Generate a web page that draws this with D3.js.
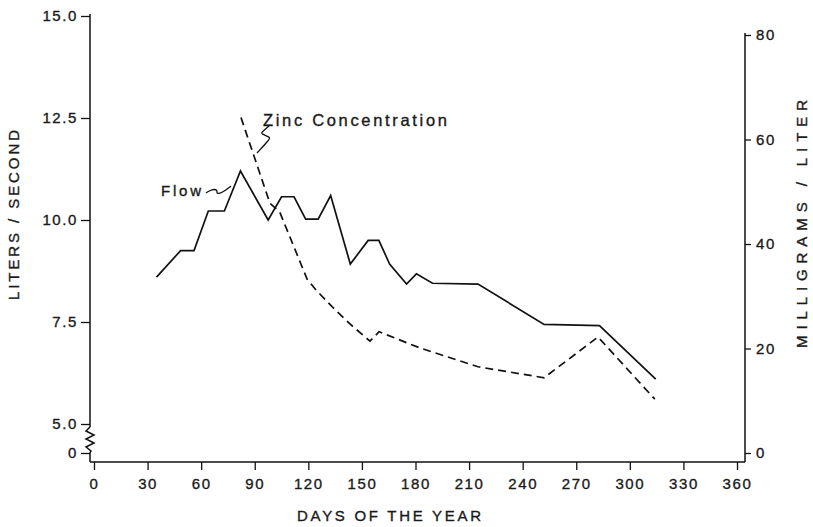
<!DOCTYPE html>
<html>
<head>
<meta charset="utf-8">
<script src="https://cdn.jsdelivr.net/npm/d3@7"></script>
<style>
  body { margin: 0; background: #fff; }
  svg text { font-family: "Liberation Sans", Arial, sans-serif; fill: #1a1a1a; stroke: #1a1a1a; stroke-width: 0.35px; }
</style>
</head>
<body>
<div id="chart"></div>
<script>
// flow, liters / second (left axis)
var flowDays = [35, 48.5, 56, 64, 73, 82, 97.5, 105, 112, 118.5, 125.5, 132.5, 143.5, 153.5, 159.5, 165.5, 175, 180.5, 189.5, 215, 252, 283, 314.5];
var flowValues = [8.6, 9.25, 9.25, 10.22, 10.22, 11.2, 10.0, 10.57, 10.57, 10.02, 10.02, 10.6, 8.92, 9.5, 9.5, 8.92, 8.43, 8.68, 8.45, 8.43, 7.44, 7.41, 6.1];

// zinc concentration, milligrams / liter (right axis)
var zincDays = [82.3, 98.5, 104, 119.3, 124.3, 133.3, 143.3, 154.5, 159.6, 182.5, 215, 252, 282.2, 314];
var zincValues = [64.2, 47.8, 46.1, 33.3, 31.2, 28.0, 24.7, 21.4, 23.2, 20.1, 16.5, 14.4, 22.2, 10.3];

var xTicks = [0, 30, 60, 90, 120, 150, 180, 210, 240, 270, 300, 330, 360];
var leftTicks = [0, 5, 7.5, 10, 12.5, 15];
var rightTicks = [0, 20, 40, 60, 80];

var width = 813,
    height = 527;

var svg = d3.select('#chart').append('svg')
  .attr('width', width)
  .attr('height', height);

var x = d3.scaleLinear().domain([0, 360]).range([94, 737]);
// broken axis: 0..5 squeezed below the break
var yLeft = d3.scaleLinear().domain([0, 5, 15]).range([453, 424, 16]);
var yRight = d3.scaleLinear().domain([0, 80]).range([453, 35]);

var axisY = 462, leftX = 90, rightX = 745;

// frame lines
var frame = svg.append('g').attr('stroke', '#111').attr('stroke-width', 1.5).attr('fill', 'none');
frame.append('line').attr('x1', leftX).attr('x2', rightX).attr('y1', axisY).attr('y2', axisY);
frame.append('line').attr('x1', rightX).attr('x2', rightX).attr('y1', yRight(80) - 2).attr('y2', axisY);
frame.append('line').attr('x1', leftX).attr('x2', leftX).attr('y1', yLeft(15) - 2).attr('y2', yLeft(5) + 3);
frame.append('path').attr('d', d3.line()([
  [leftX, yLeft(5) + 3], [leftX - 4, yLeft(5) + 7], [leftX + 4, yLeft(5) + 11], [leftX - 4, yLeft(5) + 15],
  [leftX + 4, yLeft(5) + 19], [leftX - 4, yLeft(5) + 23], [leftX + 1, yLeft(0) - 2], [leftX, yLeft(0)], [leftX, axisY]
]));

// axes
var fmtLeft = function(d) { return d === 0 ? '0' : d3.format('.1f')(d); };

var gx = svg.append('g').attr('transform', 'translate(0,' + axisY + ')')
  .call(d3.axisBottom(x).tickValues(xTicks).tickSize(8).tickPadding(8));
var gl = svg.append('g').attr('transform', 'translate(' + leftX + ',0)')
  .call(d3.axisLeft(yLeft).tickValues(leftTicks).tickFormat(fmtLeft).tickSize(9).tickPadding(3));
var gr = svg.append('g').attr('transform', 'translate(' + rightX + ',0)')
  .call(d3.axisRight(yRight).tickValues(rightTicks).tickSize(6).tickPadding(5));

[gx, gl, gr].forEach(function(g) {
  g.select('.domain').remove();
  g.selectAll('.tick line').attr('stroke', '#111').attr('stroke-width', 1.3);
  g.selectAll('.tick text').attr('font-size', 15).style('letter-spacing', '1.6px').attr('fill', '#1a1a1a');
});

// axis titles
svg.append('text').attr('transform', 'translate(19,215) rotate(-90)')
  .attr('text-anchor', 'middle').attr('font-size', 15)
  .attr('textLength', 170).attr('lengthAdjust', 'spacing').text('LITERS / SECOND');
svg.append('text').attr('transform', 'translate(807,224) rotate(-90)')
  .attr('text-anchor', 'middle').attr('font-size', 15)
  .attr('textLength', 248).attr('lengthAdjust', 'spacing').text('MILLIGRAMS / LITER');
svg.append('text').attr('x', 389).attr('y', 521)
  .attr('text-anchor', 'middle').attr('font-size', 15)
  .attr('textLength', 184).attr('lengthAdjust', 'spacing').text('DAYS OF THE YEAR');

// series
var flowLine = d3.line().x(function(d) { return x(d[0]); }).y(function(d) { return yLeft(d[1]); });
var zincLine = d3.line().x(function(d) { return x(d[0]); }).y(function(d) { return yRight(d[1]); });

svg.append('path').datum(d3.zip(flowDays, flowValues))
  .attr('d', flowLine).attr('fill', 'none').attr('stroke', '#111')
  .attr('stroke-width', 1.7).attr('stroke-linejoin', 'miter');

svg.append('path').datum(d3.zip(zincDays, zincValues))
  .attr('d', zincLine).attr('fill', 'none').attr('stroke', '#111')
  .attr('stroke-width', 1.7).attr('stroke-dasharray', '8,5');

// labels with squiggle leaders
svg.append('text').attr('x', 263).attr('y', 126).attr('font-size', 16.5)
  .attr('textLength', 184).attr('lengthAdjust', 'spacing').text('Zinc Concentration');
svg.append('path').attr('fill', 'none').attr('stroke', '#111').attr('stroke-width', 1.3)
  .attr('d', d3.line().curve(d3.curveBasis)([[269, 126], [262, 132], [261, 134], [270, 137], [270, 139], [257, 153]]));

svg.append('text').attr('x', 161).attr('y', 196).attr('font-size', 15)
  .attr('textLength', 40).attr('lengthAdjust', 'spacing').text('Flow');
svg.append('path').attr('fill', 'none').attr('stroke', '#111').attr('stroke-width', 1.3)
  .attr('d', d3.line().curve(d3.curveBasis)([[206, 193], [212, 189], [218, 190], [216, 194], [222, 193], [231, 186]]));
</script>
</body>
</html>
